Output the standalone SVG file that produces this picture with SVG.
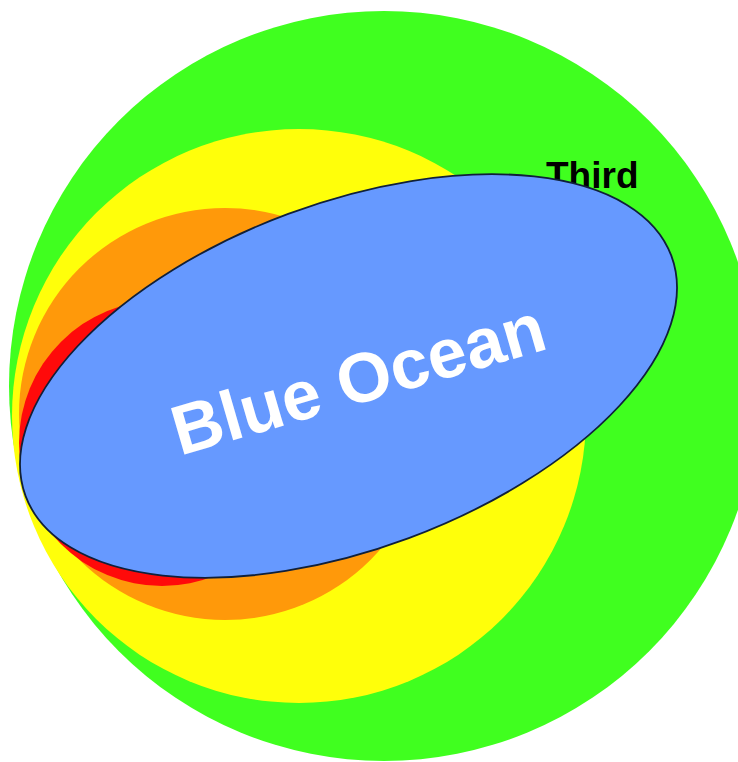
<svg xmlns="http://www.w3.org/2000/svg" width="738" height="762" viewBox="0 0 738 762">
  <style>
    .lbl { font-family: "Liberation Sans", Arial, sans-serif; font-weight: bold; }
  </style>
  <rect x="0" y="0" width="738" height="762" fill="#ffffff"/>
  <g id="green">
    <circle cx="384" cy="386" r="375" fill="#40ff1f"/>
  </g>
  <g id="yellow">
    <circle cx="299" cy="416" r="287" fill="#ffff0a"/>
  </g>
  <g id="orange">
    <circle cx="225" cy="414" r="206" fill="#ff990a"/>
  </g>
  <g id="red">
    <circle cx="162" cy="443" r="143" fill="#ff0a0a"/>
  </g>
  <g id="third">
    <text class="lbl" x="546" y="188" font-size="37" fill="#000000">Third</text>
  </g>
  <g id="blue-ocean">
    <ellipse cx="348.5" cy="376" rx="344.5" ry="173" transform="rotate(-20.4 348.5 376)" fill="#6699ff" stroke="#10203a" stroke-width="1.8"/>
    <text class="lbl" x="365" y="402" font-size="70" fill="#ffffff" text-anchor="middle" transform="rotate(-16.2 365 402)">Blue Ocean</text>
  </g>
</svg>
